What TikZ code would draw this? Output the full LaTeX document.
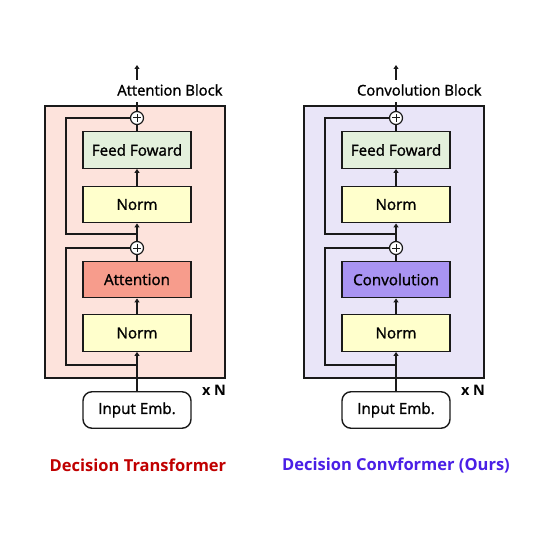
\documentclass[tikz,border=0pt]{standalone}
\usepackage{fontspec}
\setmainfont{Open Sans}
\newfontfamily\medf{Open Sans}[FakeBold=1.4]
\usetikzlibrary{arrows.meta}
\definecolor{outerA}{HTML}{FDE3DC}
\definecolor{outerB}{HTML}{E9E5F8}
\definecolor{ffc}{HTML}{E3F0DC}
\definecolor{normc}{HTML}{FFFFCC}
\definecolor{attc}{HTML}{F79C8C}
\definecolor{convc}{HTML}{A994F2}
\definecolor{capA}{HTML}{C00000}
\definecolor{capB}{HTML}{4A1FE6}
\definecolor{ln}{HTML}{1A1A1A}
\tikzset{
 blk/.style={draw=ln, line width=1.4pt, minimum width=108pt, minimum height=36.5pt, inner sep=0pt, font=\medf\fontsize{15.2}{18}\selectfont},
 addc/.style={draw=ln, fill=white, line width=1.2pt, circle, minimum size=13pt, inner sep=0pt,
   path picture={\draw[line width=1pt] ([xshift=-3.6pt]path picture bounding box.center) -- ([xshift=3.6pt]path picture bounding box.center);
                 \draw[line width=1pt] ([yshift=-3.6pt]path picture bounding box.center) -- ([yshift=3.6pt]path picture bounding box.center);}},
 wire/.style={draw=ln, line width=1.4pt},
 arr/.style={wire, -{Triangle[length=4pt,width=5pt]}},
 outerbox/.style={draw=ln, line width=1.4pt},
 ttl/.style={font=\medf\fontsize{14.8}{17}\selectfont, anchor=east},
 xn/.style={font=\bfseries\fontsize{14.5}{17}\selectfont},
 captxt/.style={font=\bfseries\fontsize{16.5}{19}\selectfont},
}
\newcommand\dtpanel[6]{%
\begin{scope}[xshift=#2]
\draw[outerbox, fill=#3] (45,106) rectangle (225,378);
\node[blk, fill=ffc] (#1ff) at (137,150) {Feed Foward};
\node[blk, fill=normc] (#1na) at (137,204.5) {Norm};
\node[blk, fill=#5] (#1mid) at (137,279.5) {#4};
\node[blk, fill=normc] (#1nb) at (137,333) {Norm};
\node[blk, fill=white, rounded corners=9pt] (#1in) at (137,410) {Input Emb.};
\node[addc] (#1pa) at (137,118) {};
\node[addc] (#1pb) at (137,248) {};
\coordinate (#1top) at (137,102);
\coordinate (#1sa) at (137,234);
\coordinate (#1ka) at (66,234);
\coordinate (#1kb) at (66,118);
\coordinate (#1sb) at (137,365);
\coordinate (#1kc) at (66,365);
\coordinate (#1kd) at (66,248);
\coordinate (#1ua) at (137,80);
\coordinate (#1ub) at (137,65);
\draw[arr] (#1in) -- (#1nb);
\draw[arr] (#1nb) -- (#1mid);
\draw[wire] (#1mid) -- (#1pb);
\draw[arr] (#1pb) -- (#1na);
\draw[arr] (#1na) -- (#1ff);
\draw[wire] (#1ff) -- (#1pa);
\draw[wire] (#1pa) -- (#1top);
\draw[wire] (#1sa) -- (#1ka) -- (#1kb) -- (#1pa);
\draw[wire] (#1sb) -- (#1kc) -- (#1kd) -- (#1pb);
\draw[arr] (#1ua) -- (#1ub);
\node[ttl] (#1title) at (226,90) {#6};
\node[xn] (#1xn) at (214,390) {x N};
\end{scope}}
\begin{document}
\begin{tikzpicture}[x=1pt,y=-1pt]
\useasboundingbox[fill=white] (0,0) rectangle (534,534);
\dtpanel{L}{0pt}{outerA}{Attention}{attc}{Attention Block}
\dtpanel{R}{259pt}{outerB}{Convolution}{convc}{Convolution Block}
\node[captxt, text=capA] (capL) at (138,465) {Decision Transformer};
\node[captxt, text=capB] (capR) at (396,465) {Decision Convformer (Ours)};
\end{tikzpicture}
\end{document}
